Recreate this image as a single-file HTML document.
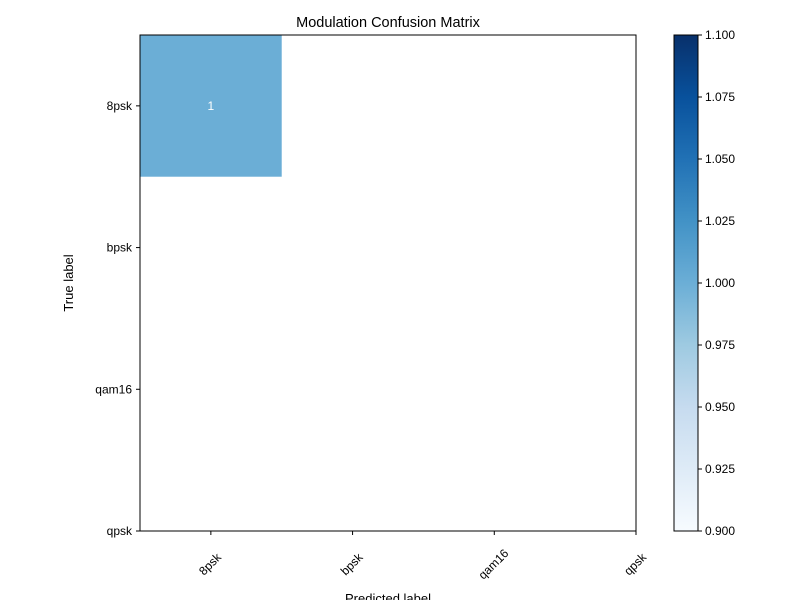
<!DOCTYPE html>
<html><head><meta charset="utf-8"><style>
body{margin:0;background:#fff;}
svg text{font-family:"Liberation Sans","DejaVu Sans",sans-serif;}
</style></head><body>
<svg width="800" height="600" xmlns="http://www.w3.org/2000/svg">
<defs>
<linearGradient id="blues" x1="0" y1="1" x2="0" y2="0">
<stop offset="0" stop-color="#f7fbff"/><stop offset="0.125" stop-color="#deebf7"/>
<stop offset="0.25" stop-color="#c6dbef"/><stop offset="0.375" stop-color="#9ecae1"/>
<stop offset="0.5" stop-color="#6baed6"/><stop offset="0.625" stop-color="#4292c6"/>
<stop offset="0.75" stop-color="#2171b5"/><stop offset="0.875" stop-color="#08519c"/>
<stop offset="1" stop-color="#08306b"/>
</linearGradient>
</defs>
<g id="plot"></g>
<g id="cbar"></g>
</svg>
<script>
const classes=["8psk","bpsk","qam16","qpsk"];
const matrix=[[1,0,0,0],[0,0,0,0],[0,0,0,0],[0,0,0,0]];
const cbarTicks=[0.900,0.925,0.950,0.975,1.000,1.025,1.050,1.075,1.100];
const vmin=0.9,vmax=1.1;
const NS="http://www.w3.org/2000/svg";
const L=140,T=35,W=496,H=496;
const cell=W/3.5;
const sx=i=>L+(i+0.5)*cell, sy=i=>T+(i+0.5)*cell;
function mk(t,a,p){const e=document.createElementNS(NS,t);for(const k in a)e.setAttribute(k,a[k]);p.appendChild(e);return e;}
const g=document.getElementById('plot');
const stops=["#f7fbff","#deebf7","#c6dbef","#9ecae1","#6baed6","#4292c6","#2171b5","#08519c","#08306b"];
function color(v){if(v<=vmin)return"#ffffff";let t=Math.min(1,(v-vmin)/(vmax-vmin))*8;let i=Math.min(7,Math.floor(t));return t-i<0.5?stops[i]:stops[i+1];}
const title=mk('text',{x:388,y:27,'text-anchor':'middle','font-size':14.5},g);title.textContent="Modulation Confusion Matrix";

matrix.forEach((row,r)=>row.forEach((v,c)=>{
 if(v>vmin){
  const x0=L+c*cell,y0=T+r*cell;
  const rc=mk('rect',{x:x0,y:y0,width:Math.min(cell,L+W-x0),height:Math.min(cell,T+H-y0),fill:color(v)},g);
  
  
  const tx=mk('text',{x:sx(c),y:sy(r)+4,'text-anchor':'middle','font-size':12,fill:'#fff'},g);tx.textContent=v;
  
  
 }
}));
const fr=mk('rect',{x:L,y:T,width:W,height:H,fill:'none',stroke:'#000','stroke-width':1},g);

classes.forEach((c,i)=>{
 const x=sx(i),y=sy(i);
 mk('line',{x1:x,y1:T+H,x2:x,y2:T+H+4,stroke:'#000'},g);
 const xt=mk('text',{'font-size':12,'text-anchor':'middle',transform:`translate(${x+2},${T+H+36}) rotate(-45)`},g);xt.textContent=c;
 
 mk('line',{x1:L,y1:y,x2:L-4,y2:y,stroke:'#000'},g);
 const yt=mk('text',{x:L-8,y:y+4,'font-size':12,'text-anchor':'end'},g);yt.textContent=c;
 
});
const xl=mk('text',{x:388,y:603,'text-anchor':'middle','font-size':13},g);xl.textContent="Predicted label";

const yl=mk('text',{'text-anchor':'middle','font-size':13,transform:'translate(73,283) rotate(-90)'},g);yl.textContent="True label";

const cb=document.getElementById('cbar');
const CX=674,CW=24;
const cr=mk('rect',{x:CX,y:T,width:CW,height:H,fill:'url(#blues)',stroke:'#000','stroke-width':1},cb);

cbarTicks.forEach(v=>{
 const y=T+H-(v-vmin)/(vmax-vmin)*H;
 mk('line',{x1:CX+CW,y1:y,x2:CX+CW+4,y2:y,stroke:'#000'},cb);
 const t=mk('text',{x:CX+CW+7,y:y+4,'font-size':12},cb);t.textContent=v.toFixed(3);
 
});
</script>
</body></html>
